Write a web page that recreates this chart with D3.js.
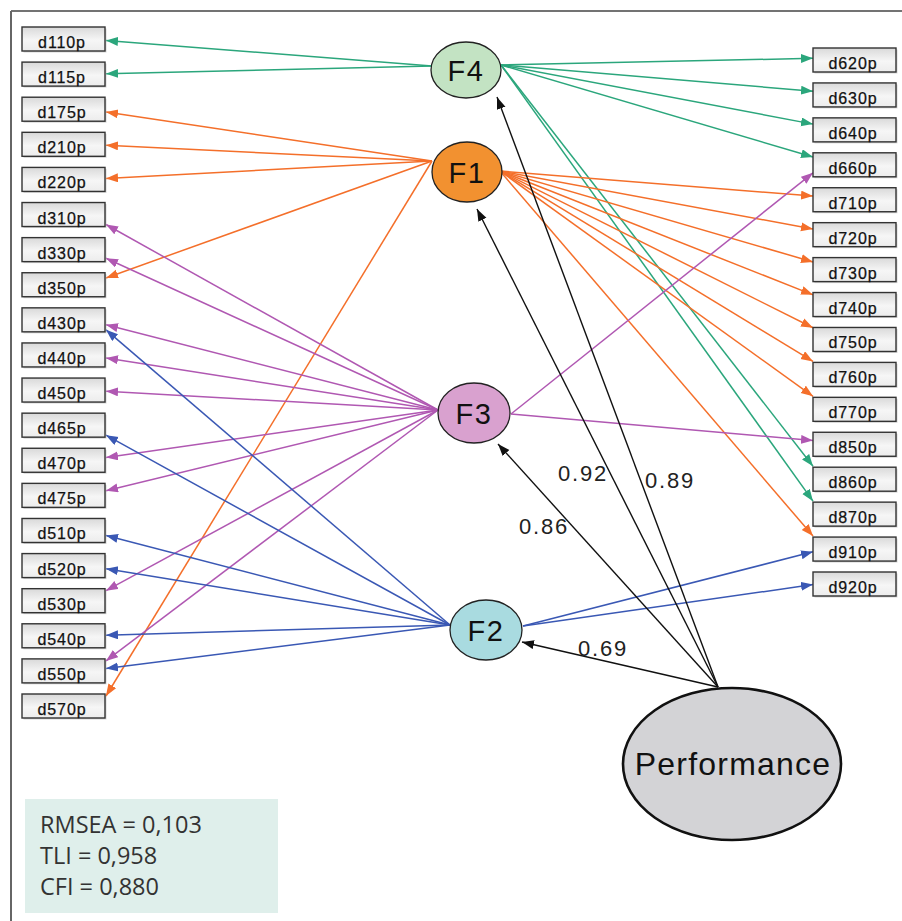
<!DOCTYPE html>
<html>
<head>
<meta charset="utf-8">
<script src="https://cdn.jsdelivr.net/npm/d3@7"></script>
<style>
  html, body { margin: 0; padding: 0; background: #fff; }
  svg { display: block; }
</style>
</head>
<body>
<svg id="chart" width="902" height="921"></svg>
<script>
// ---------------- DATA ----------------
const leftIndicators = ["d110p","d115p","d175p","d210p","d220p","d310p","d330p","d350p","d430p","d440p",
  "d450p","d465p","d470p","d475p","d510p","d520p","d530p","d540p","d550p","d570p"];
const rightIndicators = ["d620p","d630p","d640p","d660p","d710p","d720p","d730p","d740p","d750p","d760p",
  "d770p","d850p","d860p","d870p","d910p","d920p"];
const factors = ["F4","F1","F3","F2"];
const loadingsF4 = ["d110p","d115p","d620p","d630p","d640p","d660p","d860p","d870p"];
const loadingsF1 = ["d175p","d210p","d220p","d350p","d570p","d710p","d720p","d730p","d740p","d750p","d760p","d770p","d910p"];
const loadingsF3 = ["d310p","d330p","d430p","d440p","d450p","d470p","d475p","d530p","d550p","d660p","d850p"];
const loadingsF2 = ["d430p","d465p","d510p","d520p","d540p","d550p","d910p","d920p"];
const higherOrder = "Performance";
const pathCoefficients = [0.89, 0.92, 0.86, 0.69]; // Performance -> F4, F1, F3, F2
const fitIndices = ["RMSEA","TLI","CFI"];
const fitValues = ["0,103","0,958","0,880"];

// ---------------- LAYOUT / STYLE ----------------
const loadingsByFactor = { F4: loadingsF4, F1: loadingsF1, F3: loadingsF3, F2: loadingsF2 };
const nodeStyle = {
  F4: { cx: 466, cy: 70,  rx: 35, ry: 28, fill: "#c3e3c3", line: "#2ba67c", left: [432, 66],  right: [501, 65],  tip: [497, 97],  label: [645, 488] },
  F1: { cx: 467, cy: 172, rx: 35, ry: 30, fill: "#f29130", line: "#f46f2a", left: [432, 161], right: [500, 171], tip: [477, 209], label: [558, 481] },
  F3: { cx: 474, cy: 413, rx: 36, ry: 30, fill: "#d9a1cf", line: "#b058b2", left: [438, 410], right: [511, 414], tip: [498, 444], label: [519, 534] },
  F2: { cx: 486, cy: 630, rx: 36, ry: 30, fill: "#a9dbe0", line: "#3a58b4", left: [450, 625], right: [523, 626], tip: [522, 642], label: [578, 656] }
};
const perf = { cx: 732, cy: 764, rx: 109, ry: 76, fill: "#d3d3d6", origin: [718, 687] };
const boxW = 83, boxH = 24;
const leftX = 22, rightX = 813;

const svg = d3.select("#chart");

// scales for indicator box positions
const yLeft = d3.scalePoint().domain(leftIndicators).range([27, 694]);
const yRight = d3.scalePoint().domain(rightIndicators).range([48, 572]);

// defs: gradient + markers
const defs = svg.append("defs");
const grad = defs.append("linearGradient").attr("id", "boxGrad").attr("x1", 0).attr("y1", 0).attr("x2", 0).attr("y2", 1);
grad.append("stop").attr("offset", "0%").attr("stop-color", "#d9d9d9");
grad.append("stop").attr("offset", "55%").attr("stop-color", "#f6f6f6");
grad.append("stop").attr("offset", "100%").attr("stop-color", "#ececec");

const markerColors = { black: "#111" };
factors.forEach(f => markerColors[f] = nodeStyle[f].line);
Object.entries(markerColors).forEach(([k, c]) => {
  defs.append("marker")
    .attr("id", "arr-" + k)
    .attr("markerUnits", "userSpaceOnUse")
    .attr("markerWidth", 13).attr("markerHeight", 10)
    .attr("refX", 12).attr("refY", 4.5)
    .attr("orient", "auto")
    .append("path").attr("d", "M0,0 L12,4.5 L0,9 Z").attr("fill", c);
});

// frame
svg.append("line").attr("x1", 11).attr("y1", 11).attr("x2", 902).attr("y2", 11).attr("stroke", "#444").attr("stroke-width", 1.5);
svg.append("line").attr("x1", 11).attr("y1", 11).attr("x2", 11).attr("y2", 921).attr("stroke", "#666").attr("stroke-width", 2);

// loading arrows
const gLines = svg.append("g");
factors.forEach(f => {
  const ns = nodeStyle[f];
  loadingsByFactor[f].forEach(ind => {
    const isLeft = leftIndicators.includes(ind);
    let src, tx, ty;
    if (isLeft) {
      src = ns.left;
      const cy = yLeft(ind) + boxH / 2;
      const s = (cy - src[1]) / (src[0] - (leftX + boxW));
      tx = leftX + boxW + 1;
      ty = cy - Math.max(-10, Math.min(10, s * 18));
    } else {
      src = ns.right;
      const cy = yRight(ind) + boxH / 2;
      const s = (cy - src[1]) / (rightX - src[0]);
      tx = rightX;
      ty = cy - 2 - Math.max(-10, Math.min(11, s * 18));
    }
    gLines.append("line")
      .attr("x1", src[0]).attr("y1", src[1])
      .attr("x2", tx).attr("y2", ty)
      .attr("stroke", ns.line).attr("stroke-width", 1.5)
      .attr("marker-end", "url(#arr-" + f + ")");
  });
});

// structural arrows from Performance
factors.forEach((f, i) => {
  const ns = nodeStyle[f];
  svg.append("line")
    .attr("x1", perf.origin[0]).attr("y1", perf.origin[1])
    .attr("x2", ns.tip[0]).attr("y2", ns.tip[1])
    .attr("stroke", "#111").attr("stroke-width", 1.4)
    .attr("marker-end", "url(#arr-black)");
  svg.append("text")
    .attr("x", ns.label[0]).attr("y", ns.label[1])
    .attr("font-family", "Liberation Sans, Arial, sans-serif")
    .attr("font-size", 22).attr("letter-spacing", 1.8)
    .attr("fill", "#222")
    .text(d3.format(".2f")(pathCoefficients[i]));
});

// indicator boxes
function drawBoxes(list, x, yScale, textCx) {
  const g = svg.append("g").selectAll("g").data(list).join("g")
    .attr("transform", d => `translate(${x},${yScale(d)})`);
  g.append("rect").attr("x", 1.5).attr("y", 1.5).attr("width", boxW).attr("height", boxH)
    .attr("fill", "#bdbdbd").attr("opacity", 0.6);
  g.append("rect").attr("width", boxW).attr("height", boxH)
    .attr("fill", "url(#boxGrad)").attr("stroke", "#333").attr("stroke-width", 1.4);
  g.append("text").attr("x", textCx).attr("y", 21)
    .attr("text-anchor", "middle")
    .attr("font-family", "Liberation Sans, Arial, sans-serif")
    .attr("font-size", 16).attr("letter-spacing", 0.9)
    .attr("fill", "#111").attr("stroke", "#111").attr("stroke-width", 0.25)
    .text(d => d);
}
drawBoxes(leftIndicators, leftX, yLeft, 40);
drawBoxes(rightIndicators, rightX, yRight, 40);

// factor ellipses
factors.forEach(f => {
  const ns = nodeStyle[f];
  svg.append("ellipse").attr("cx", ns.cx).attr("cy", ns.cy).attr("rx", ns.rx).attr("ry", ns.ry)
    .attr("fill", ns.fill).attr("stroke", "#222").attr("stroke-width", 1.3);
  svg.append("text").attr("x", ns.cx).attr("y", ns.cy + 10.5)
    .attr("text-anchor", "middle")
    .attr("font-family", "Liberation Sans, Arial, sans-serif")
    .attr("font-size", 29).attr("letter-spacing", 1.5)
    .attr("fill", "#111").text(f);
});

// Performance ellipse
svg.append("ellipse").attr("cx", perf.cx).attr("cy", perf.cy).attr("rx", perf.rx).attr("ry", perf.ry)
  .attr("fill", perf.fill).attr("stroke", "#111").attr("stroke-width", 2.6);
svg.append("text").attr("x", perf.cx + 1).attr("y", perf.cy + 10.5)
  .attr("text-anchor", "middle")
  .attr("font-family", "Liberation Sans, Arial, sans-serif")
  .attr("font-size", 32).attr("letter-spacing", 1.2)
  .attr("fill", "#111").text(higherOrder);

// fit statistics box
svg.append("rect").attr("x", 25).attr("y", 799).attr("width", 253).attr("height", 114).attr("fill", "#dfefeb");
fitIndices.forEach((name, i) => {
  svg.append("text").attr("x", 40).attr("y", 833 + i * 31)
    .attr("font-family", "Open Sans, sans-serif")
    .attr("font-size", 23.5).attr("font-weight", 400)
    .attr("fill", "#333")
    .text(`${name} = ${fitValues[i]}`);
});
</script>
</body>
</html>
